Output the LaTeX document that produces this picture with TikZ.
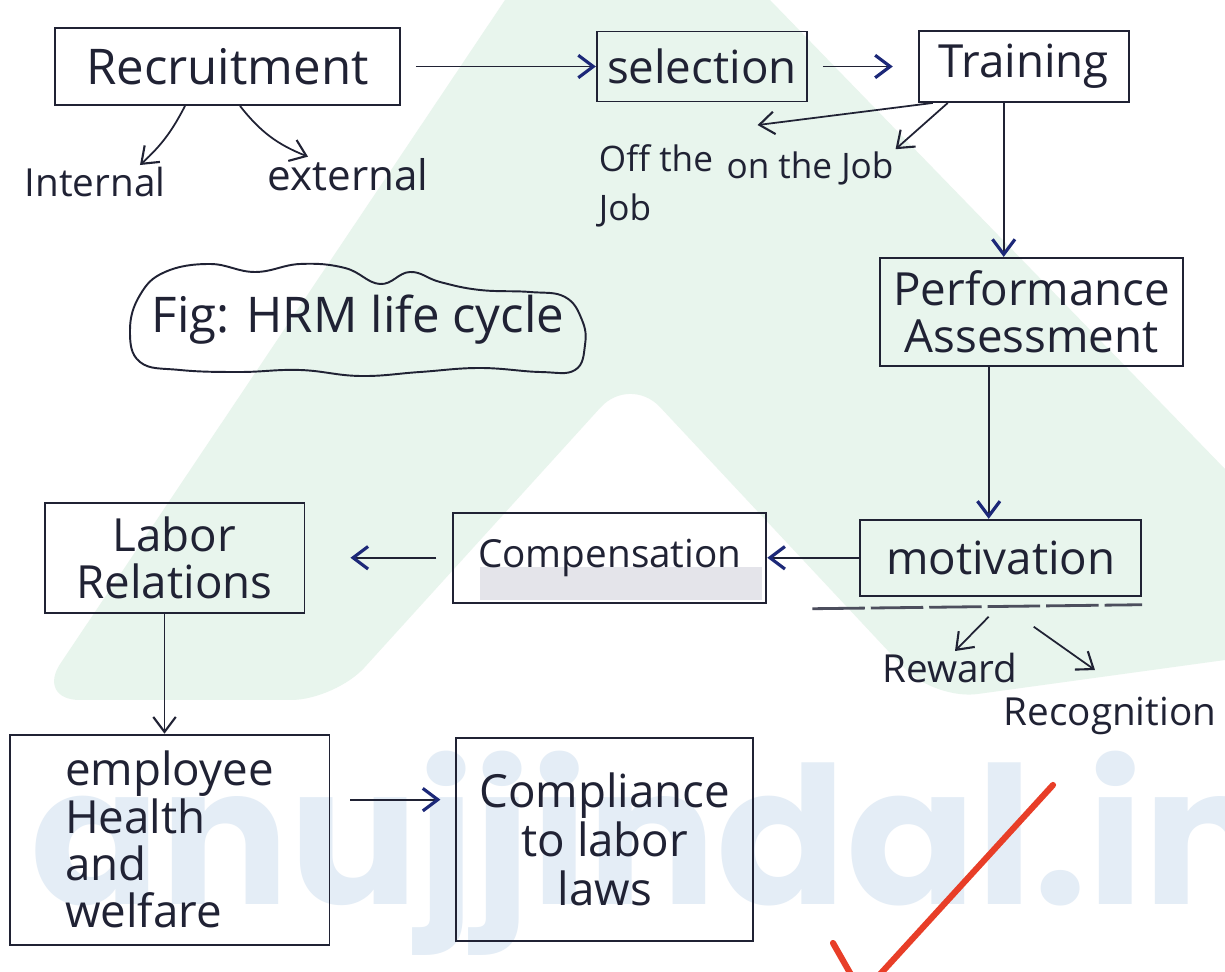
\documentclass[tikz,border=0pt]{standalone}
\usepackage{fontspec}
\setmainfont{Open Sans}
\newfontfamily\wmfont{Poppins}
\usepackage{xcolor}
\usetikzlibrary{arrows.meta, positioning, calc}
\definecolor{ink}{RGB}{32,34,52}
\definecolor{inkblue}{RGB}{28,40,120}
\definecolor{wmgreen}{RGB}{232,245,237}
\definecolor{wmblue}{RGB}{228,237,246}
\definecolor{tickred}{RGB}{232,62,40}
\definecolor{smudge}{RGB}{228,228,234}

\begin{document}
\begin{tikzpicture}[
    x=0.02cm, y=-0.02cm,
    box/.style={draw=ink, line width=1.1pt, align=center, inner sep=2pt, text=ink,
               font=\fontsize{26}{27}\selectfont},
    lbl/.style={text=ink, inner sep=1pt, align=left, font=\fontsize{22}{25}\selectfont},
    arrow/.style={-{Straight Barb[length=3mm, width=4.5mm, line width=1.2pt]}, line width=1pt, draw=ink},
    barrow/.style={line width=1pt, draw=ink,
               -{Straight Barb[length=3mm, width=4.5mm, line width=1.8pt, color=inkblue]}}
]
\useasboundingbox (0,0) rectangle (1225,972);
\clip (0,0) rectangle (1225,972);
\fill[white] (0,0) rectangle (1225,972);
\fill[wmgreen] (505,0) -- (770,0) -- (1225,469) -- (1225,660) [rounded corners=25pt] -- (934,700)
    -- (630,375) -- (335,700) -- (36,700) [sharp corners] -- cycle;
\node[text=wmblue, anchor=base west, inner sep=0,
      font=\wmfont\bfseries\fontsize{109}{109}\selectfont] (wm) at (30,905) {anujjindal.in};
\fill[smudge] (480,567) rectangle (762,600);

\node[box, minimum width=6.9cm, minimum height=1.54cm, font=\fontsize{28}{30}\selectfont] (rec) at (227.5,66.5) {Recruitment};
\node[box, minimum width=4.2cm, minimum height=1.4cm, right=3.9cm of rec] (sel) {selection};
\node[box, minimum width=4.2cm, minimum height=1.42cm, right=2.2cm of sel] (trn) {Training};
\node[box, minimum width=6.06cm, minimum height=2.16cm, below=3.08cm of trn, xshift=0.16cm] (perf) {Performance\\Assessment};
\node[box, minimum width=5.62cm, minimum height=1.52cm, below=3.04cm of perf, xshift=-0.62cm] (mot) {motivation};
\node[box, minimum width=6.26cm, minimum height=1.8cm, left=1.84cm of mot, font=\fontsize{22}{25}\selectfont] (comp) {Compensation};
\node[box, minimum width=5.2cm, minimum height=2.2cm, left=2.94cm of comp] (lab) {Labor\\Relations};
\node[box, minimum width=6.4cm, minimum height=4.2cm, below=2.4cm of lab, xshift=-0.1cm, align=left] (emp) {employee\\Health\\and\\welfare};
\node[box, minimum width=5.94cm, minimum height=4.06cm, right=2.5cm of emp, font=\fontsize{26}{28}\selectfont] (law) {Compliance\\to labor\\laws};

\node[text=ink, font=\fontsize{28}{30}\selectfont] (fig) at (358,320) {Fig: HRM life cycle};
\draw[ink, line width=1.1pt] plot[smooth cycle, tension=0.7] coordinates {
    (130,330) (140,295) (165,272) (210,264) (255,272) (300,264) (345,268) (380,284)
    (410,272) (440,282) (480,290) (530,292) (565,297) (582,320) (585,345) (575,370)
    (540,372) (480,368) (420,372) (360,376) (300,370) (240,372) (180,370) (140,362)};

\node[lbl] (int) at (95,182) {Internal};
\node[lbl, font=\fontsize{24}{26}\selectfont] (ext) at (348,175) {external};
\node[lbl, font=\fontsize{20}{28}\selectfont] (off) at (656,186) {Off the\\Job};
\node[lbl, font=\fontsize{20}{24}\selectfont] (on) at (810,168) {on the Job};
\node[lbl] (rew) at (950,668) {Reward};
\node[lbl] (recog) at (1110,716) {Recognition};

\draw[barrow, shorten <=0.3cm] (rec) -- (sel);
\draw[barrow, shorten <=0.3cm, shorten >=0.5cm] (sel) -- (trn);
\draw[arrow] ([xshift=-0.85cm]rec.south) to[bend left=10] ([xshift=0.9cm]int.north);
\draw[arrow] ([xshift=0.25cm]rec.south) to[bend right=15] ([xshift=-0.8cm]ext.north);
\draw[arrow] ([xshift=0.3cm]trn.south west) -- ([xshift=0.85cm, yshift=0.35cm]off.north east);
\draw[arrow] ([xshift=0.6cm]trn.south west) -- (on.north east);
\draw[barrow] ($(trn.south)+(-20,0)$) -- ($(trn.south |- perf.north)+(-20,0)$);
\draw[barrow] ($(mot.north |- perf.south)+(-12,0)$) -- ($(mot.north)+(-12,0)$);
\draw[barrow] (mot.west) -- (comp.east);
\draw[ink!80, line width=1.6pt, dash pattern=on 1.05cm off 0.12cm]
    ($(mot.south west)+(-47,12)$) -- ($(mot.south east)+(0,8)$);
\draw[arrow] ($(mot.south)+(-12,20)$) -- ($(rew.north)+(5,0)$);
\draw[arrow] ($(mot.south)+(33,30)$) -- ($(recog.north)+(-15,-25)$);
\draw[barrow, shorten <=0.32cm, shorten >=0.9cm] (comp) -- (lab);
\draw[arrow] ($(lab.south)+(-10,0)$) -- ($(lab.south |- emp.north)+(-10,0)$);
\draw[barrow, shorten <=0.4cm, shorten >=0.3cm] ($(emp.east)+(0,-40)$) -- ($(emp.east -| law.west)+(0,-40)$);

\draw[tickred, line width=3.5pt, line cap=round, line join=round] (833,943) -- (862,994) -- (1053,785);
\end{tikzpicture}
\end{document}
